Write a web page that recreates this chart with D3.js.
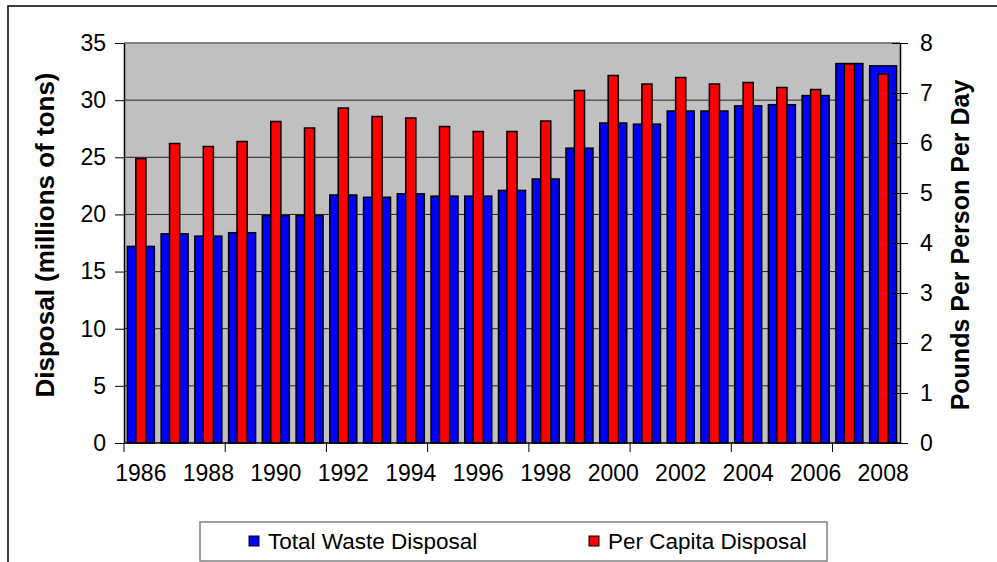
<!DOCTYPE html>
<html>
<head>
<meta charset="utf-8">
<script src="https://cdn.jsdelivr.net/npm/d3@7"></script>
<style>
  body { margin: 0; background: #fff; }
  svg { display: block; font-family: Arial, "Liberation Sans", sans-serif; }
</style>
</head>
<body>
<svg id="chart"></svg>
<script>
var years      = [1986,1987,1988,1989,1990,1991,1992,1993,1994,1995,1996,1997,1998,1999,2000,2001,2002,2003,2004,2005,2006,2007,2008];
var totalWaste = [17.2,18.3,18.1,18.4,19.9,19.9,21.7,21.5,21.8,21.6,21.6,22.1,23.1,25.8,28.0,27.9,29.05,29.05,29.5,29.6,30.4,33.2,33.0];
var perCapita  = [5.69,5.99,5.93,6.03,6.43,6.30,6.70,6.53,6.50,6.33,6.23,6.23,6.44,7.05,7.35,7.18,7.31,7.18,7.21,7.11,7.07,7.58,7.38];
var leftTicks  = [0,5,10,15,20,25,30,35];
var rightTicks = [0,1,2,3,4,5,6,7,8];
var yearLabels = [1986,1988,1990,1992,1994,1996,1998,2000,2002,2004,2006,2008];

var W = 997, H = 562;
var plotL = 124, plotR = 900, plotT = 43, plotB = 443;

var svg = d3.select('#chart').attr('width', W).attr('height', H);

// outer frame (only top and left visible)
svg.append('path')
  .attr('d', 'M8,' + H + 'V6H' + W)
  .attr('fill', 'none').attr('stroke', '#000').attr('stroke-width', 1.5);

var x  = d3.scaleBand().domain(years).range([plotL, plotR]).padding(0);
var yL = d3.scaleLinear().domain([0, 35]).range([plotB, plotT]);
var yR = d3.scaleLinear().domain([0, 8]).range([plotB, plotT]);

// plot area
svg.append('rect')
  .attr('x', plotL).attr('y', plotT)
  .attr('width', plotR - plotL).attr('height', plotB - plotT)
  .attr('fill', '#c0c0c0');

// gridlines
svg.append('g').selectAll('line').data(leftTicks.slice(1, -1)).enter().append('line')
  .attr('x1', plotL).attr('x2', plotR)
  .attr('y1', function(d) { return yL(d); }).attr('y2', function(d) { return yL(d); })
  .attr('stroke', '#222').attr('stroke-width', 1);

svg.append('line')
  .attr('x1', plotL).attr('x2', plotR).attr('y1', plotT).attr('y2', plotT)
  .attr('stroke', '#808080').attr('stroke-width', 2);

var bw = x.bandwidth();

// blue bars
svg.append('g').selectAll('rect').data(years).enter().append('rect')
  .attr('x', function(d) { return x(d) + bw * 0.1; })
  .attr('width', bw * 0.8)
  .attr('y', function(d, i) { return yL(totalWaste[i]); })
  .attr('height', function(d, i) { return plotB - yL(totalWaste[i]); })
  .attr('fill', '#0000ff').attr('stroke', '#000').attr('stroke-width', 1.5);

// red bars
svg.append('g').selectAll('rect').data(years).enter().append('rect')
  .attr('x', function(d) { return x(d) + bw * 0.35; })
  .attr('width', bw * 0.3)
  .attr('y', function(d, i) { return yR(perCapita[i]); })
  .attr('height', function(d, i) { return plotB - yR(perCapita[i]); })
  .attr('fill', '#ff0000').attr('stroke', '#000').attr('stroke-width', 1.5);

// left axis
var gL = svg.append('g').attr('transform', 'translate(' + plotL + ',0)')
  .call(d3.axisLeft(yL).tickValues(leftTicks).tickSize(9).tickPadding(9).tickSizeOuter(0));
// right axis
var gR = svg.append('g').attr('transform', 'translate(' + plotR + ',0)')
  .call(d3.axisRight(yR).tickValues(rightTicks).tickSize(8).tickPadding(12).tickSizeOuter(0));
gR.selectAll('.tick line').attr('x1', -8);
// bottom axis labels
var gB = svg.append('g').attr('transform', 'translate(0,' + plotB + ')')
  .call(d3.axisBottom(x).tickValues(yearLabels).tickSize(0).tickPadding(22).tickSizeOuter(0));
gB.select('.domain').attr('d', 'M' + plotL + ',0H' + plotR);
// bottom tick marks every third category
gB.selectAll('line.mk').data(years.filter(function(d, i) { return i % 3 === 0; })).enter()
  .append('line').attr('class', 'mk')
  .attr('x1', function(d) { return x(d); }).attr('x2', function(d) { return x(d); })
  .attr('y1', 0).attr('y2', 9).attr('stroke', '#000');

[gL, gR, gB].forEach(function(g) {
  g.selectAll('.domain').attr('stroke', '#000').attr('stroke-width', 1.5);
  g.selectAll('.tick line').attr('stroke', '#000');
  g.selectAll('text').attr('font-size', 23).attr('fill', '#000')
    .attr('font-family', 'Arial, "Liberation Sans", sans-serif');
});

// axis titles
svg.append('text')
  .attr('transform', 'translate(54,235) rotate(-90)')
  .attr('text-anchor', 'middle').attr('font-size', 26).attr('font-weight', 'bold')
  .text('Disposal (millions of tons)');
svg.append('text')
  .attr('transform', 'translate(969,245) rotate(-90)')
  .attr('text-anchor', 'middle').attr('font-size', 25).attr('font-weight', 'bold')
  .text('Pounds Per Person Per Day');

// legend
var lg = svg.append('g');
lg.append('rect').attr('x', 200).attr('y', 522).attr('width', 627).attr('height', 39)
  .attr('fill', '#fff').attr('stroke', '#808080').attr('stroke-width', 1.5);
var items = [
  { name: 'Total Waste Disposal', color: '#0000ff', x: 249 },
  { name: 'Per Capita Disposal',  color: '#ff0000', x: 589 }
];
var li = lg.selectAll('g.item').data(items).enter().append('g').attr('class', 'item');
li.append('rect')
  .attr('x', function(d) { return d.x; }).attr('y', 536).attr('width', 10).attr('height', 10)
  .attr('fill', function(d) { return d.color; }).attr('stroke', '#000').attr('stroke-width', 1);
li.append('text')
  .attr('x', function(d) { return d.x + 19; }).attr('y', 549)
  .attr('font-size', 22.5).text(function(d) { return d.name; });
</script>
</body>
</html>
